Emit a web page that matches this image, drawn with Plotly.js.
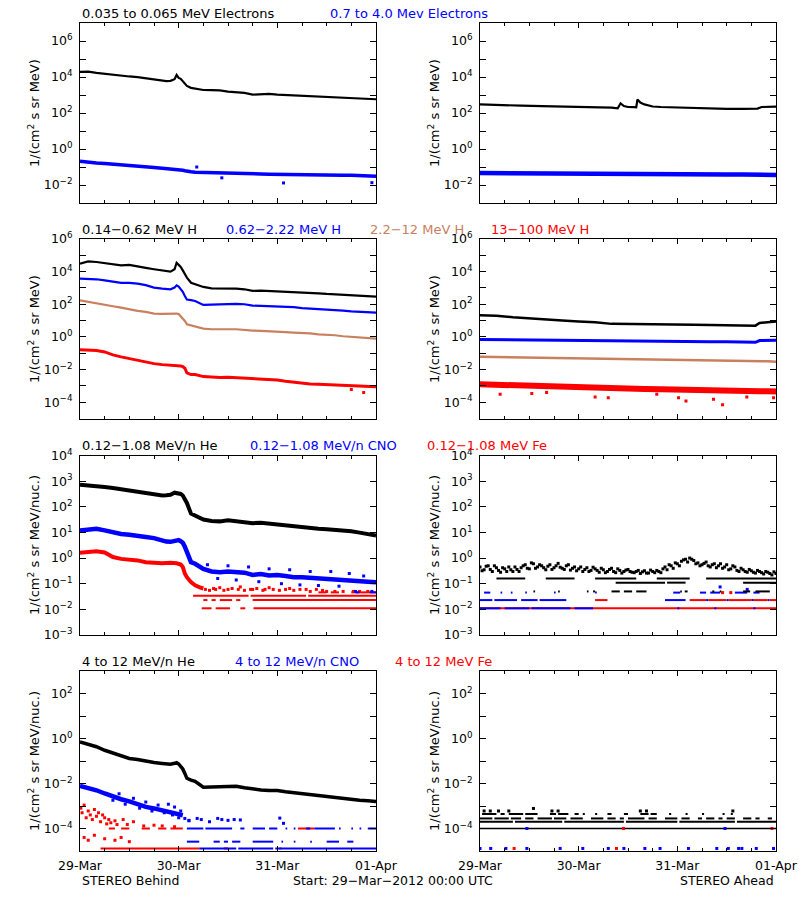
<!DOCTYPE html>
<html><head><meta charset="utf-8">
<script src="https://cdn.plot.ly/plotly-3.0.1.min.js"></script>
<style>html,body{margin:0;padding:0;background:#fff}#chart{width:800px;height:900px}</style>
</head><body><div id="chart"></div>
<script>
// ---------- time axis: hours since 29-Mar-2012 00:00 UTC ----------
const dayTickHours = [0,24,48,72];
const dayTickLabels = ['29-Mar','30-Mar','31-Mar','01-Apr'];

// ---------- Row 1 : electrons ----------
const tB = [0,2,4,6,8,10,12,14,16,18,20,21,22,23,23.5,24,24.5,25,25.5,26,27,28,30,32,34,36,38,40,42,44,46,48,50,52,54,56,58,60,62,64,66,68,70,72];
const eLowBehind = [19500,20000,17000,15000,12700,11600,10700,9800,8300,6900,6100,5900,6100,7600,13000,8900,7900,5900,4600,3200,2500,2300,1900,1850,1800,1550,1400,1300,1050,1150,1150,1050,1000,930,890,850,810,740,690,660,630,610,610,580];
const eHighBehind = [0.21,0.18,0.165,0.155,0.145,0.135,0.125,0.115,0.105,0.094,0.085,0.082,0.078,0.076,0.075,0.072,0.07,0.066,0.062,0.057,0.054,0.051,0.049,0.047,0.045,0.045,0.044,0.044,0.041,0.041,0.040,0.039,0.039,0.038,0.038,0.037,0.037,0.036,0.036,0.035,0.035,0.034,0.033,0.031];
const eHighBehindOutT = [28.4,34.5,49.5,71];
const eHighBehindOutV = [0.1,0.025,0.013,0.0135];

const tAe = [0,5,10,15,20,25,30,32,33.5,34.2,35,36,37.5,38,38.3,39,40,41,42,44,48,52,56,60,64,67.5,68.5,72];
const eLowAhead = [300,290,256,240,225,215,215,200,180,345,245,215,210,205,560,380,300,256,230,215,200,190,175,170,170,175,215,225];
const tA = [0,4,8,12,16,20,24,28,32,36,40,44,48,52,56,60,64,66,67,68,70,72];
const eHighAhead = [0.046,0.045,0.045,0.044,0.044,0.043,0.042,0.042,0.041,0.041,0.040,0.040,0.040,0.039,0.039,0.038,0.038,0.037,0.037,0.037,0.036,0.036];

// ---------- Row 2 : protons ----------
const hB1 = [31000,42000,39000,34000,28000,24500,26000,22000,17000,14000,11500,10700,10000,14000,35000,26000,19500,12000,6900,4300,2100,1700,1150,950,950,950,910,830,660,690,660,630,575,540,510,490,470,430,410,390,370,355,340,295];
const hB2 = [3700,3700,3400,2950,2450,2050,2050,1850,1500,1050,910,870,830,1050,1450,1200,830,575,320,195,178,158,91,95,105,110,105,100,83,79,76,72,69,66,58,55,49,47,45,41,37,34,32,31];
const hB3 = [174,138,110,91,76,63,47,39,34,27,26,26,27,28,27,25,18.6,12,9.5,6.0,5.1,4.7,3.2,2.95,2.8,2.95,2.95,2.6,2.45,2.35,2.15,2.05,1.95,1.85,1.8,1.65,1.45,1.38,1.26,1.1,1.0,0.93,0.87,0.79];
const hB4 = [0.166,0.158,0.145,0.12,0.079,0.060,0.047,0.037,0.031,0.023,0.020,0.0195,0.0186,0.0182,0.0182,0.0178,0.0166,0.0151,0.012,0.0063,0.0049,0.0049,0.0037,0.0035,0.0032,0.0034,0.0032,0.0032,0.0028,0.0027,0.0026,0.0023,0.0019,0.00166,0.0015,0.0013,0.00126,0.0012,0.00115,0.00105,0.001,0.001,0.00095,0.00087];
const hB4OutT = [69, 66];
const hB4OutV = [0.00039, 0.0006];

const hA1 = [21,20,15.8,13.2,11.5,10,8.7,7.9,6.3,6.0,6.0,5.75,5.75,5.5,5.4,5.25,5.0,4.9,4.9,7.2,7.9,8.7];
const hA2 = [0.69,0.68,0.66,0.65,0.63,0.62,0.60,0.58,0.56,0.55,0.54,0.54,0.54,0.52,0.51,0.50,0.49,0.48,0.47,0.60,0.62,0.63];
const hA3 = [0.060,0.058,0.056,0.054,0.053,0.052,0.050,0.048,0.046,0.045,0.044,0.042,0.040,0.039,0.038,0.036,0.035,0.034,0.034,0.033,0.032,0.030];
const hA4 = [0.00125,0.00115,0.00105,0.0010,0.00095,0.00088,0.0008,0.00075,0.0007,0.00068,0.00065,0.00063,0.00062,0.0006,0.00055,0.0005,0.00049,0.00048,0.00047,0.00047,0.00046,0.00045];
const hA4OutT = [4.9,12.6,16.2,28,31.2,43,48.3,50.1,56.8,59,64.9,71.4];
const hA4OutV = [3.1e-4,3.4e-4,3.9e-4,2.1e-4,1.9e-4,3.1e-4,1.9e-4,1.2e-4,1.5e-4,6.9e-5,2.1e-4,1.9e-4];

// ---------- Row 3 : 0.12-1.08 MeV/n ions ----------
const heB = [724,692,646,589,537,479,468,407,372,324,275,282,295,355,347,339,316,275,204,141,54,46,32,28,27,30,27.5,25,23,24,22,20.4,18.6,17.8,16.2,15.1,13.8,13.2,12.6,12.0,11.2,9.8,8.3,7.6];
const cnoB = [12,12.9,13.8,12,9.8,8.7,8.1,7.6,6.6,6.0,4.6,4.4,4.3,4.8,5.2,5.0,4.6,4.0,2.8,1.7,0.69,0.6,0.38,0.30,0.28,0.30,0.28,0.27,0.22,0.24,0.21,0.22,0.2,0.18,0.18,0.17,0.155,0.148,0.148,0.132,0.126,0.115,0.12,0.115];
const cnoBScatT = [31,33.5,36,38,41,43.5,46,49,51,53.5,56,58,61,63,65.5,67,69,71];
const cnoBScatV = [0.55,0.16,0.5,0.14,0.45,0.12,0.38,0.1,0.35,0.09,0.3,0.085,0.3,0.08,0.25,0.05,0.2,0.05];
const tFe = [0,2,4,6,8,10,12,14,16,18,20,22,23.5,24.5,25,25.5,26,27,28,29,30];
const feB = [1.6,1.7,1.85,1.65,1.1,0.93,0.89,0.81,0.69,0.65,0.63,0.65,0.63,0.56,0.45,0.25,0.18,0.115,0.087,0.074,0.065];
const feBScatT = [30.5,31.5,32.5,33,34,35,36,37,38.5,39,40,41.5,42,43,44.5,45,46,47,48.5,50,51,52,53.5,55,56,57.5,59,60,62,64,66.5,68,70];
const feBScatV = [0.06,0.055,0.065,0.06,0.07,0.055,0.06,0.065,0.06,0.075,0.055,0.06,0.06,0.065,0.055,0.06,0.07,0.06,0.055,0.06,0.065,0.055,0.06,0.06,0.05,0.06,0.055,0.05,0.05,0.05,0.05,0.05,0.05];
// quantized count levels and the time spans they are seen
const feBLevel1 = 0.046, feBSeg1 = [[58,60],[61,63],[66,72]];
const feBLevel2 = 0.034, feBSeg2 = [[27.5,41],[41.5,55],[55.5,72]];
const feBLevel3 = 0.023, feBSeg3 = [[30,31],[32,33],[34,37],[38,39],[42,72]];
const feBLevel4 = 0.011, feBSeg4 = [[29.6,32],[33,36.5],[39,40.2],[42.2,72]];
const cnoBLevel1 = 0.046, cnoBSeg1 = [[67,68],[70.5,72]];

const tH1 = [0,1,2,3,4,5,6,7,8,9,10,11,12,13,14,15,16,17,18,19,20,21,22,23,24,25,26,27,28,29,30,31,32,33,34,35,36,37,38,39,40,41,42,43,44,45,46,47,48,49,50,51,52,53,54,55,56,57,58,59,60,61,62,63,64,65,66,67,68,69,70,71,72];
const heA1 = [0.45,0.35,0.5,0.3,0.42,0.28,0.38,0.45,0.3,0.36,0.42,0.55,0.38,0.6,0.45,0.5,0.35,0.55,0.42,0.62,0.4,0.5,0.34,0.45,0.38,0.3,0.42,0.33,0.38,0.28,0.35,0.3,0.4,0.27,0.33,0.3,0.36,0.28,0.3,0.25,0.32,0.26,0.3,0.33,0.27,0.45,0.55,0.4,0.6,0.75,0.9,1.0,0.8,0.65,0.55,0.7,0.45,0.6,0.5,0.4,0.55,0.38,0.45,0.3,0.35,0.28,0.32,0.26,0.3,0.24,0.28,0.22,0.25];
const tH2 = [0.5,1.5,2.5,3.5,4.5,5.5,6.5,7.5,8.5,9.5,10.5,11.5,12.5,13.5,14.5,15.5,16.5,17.5,18.5,19.5,20.5,21.5,22.5,23.5,24.5,25.5,26.5,27.5,28.5,29.5,30.5,31.5,32.5,33.5,34.5,35.5,36.5,37.5,38.5,39.5,40.5,41.5,42.5,43.5,44.5,45.5,46.5,47.5,48.5,49.5,50.5,51.5,52.5,53.5,54.5,55.5,56.5,57.5,58.5,59.5,60.5,61.5,62.5,63.5,64.5,65.5,66.5,67.5,68.5,69.5,70.5,71.5];
const heA2 = [0.32,0.48,0.36,0.5,0.33,0.42,0.3,0.35,0.45,0.3,0.5,0.4,0.65,0.4,0.55,0.42,0.48,0.36,0.5,0.44,0.36,0.55,0.4,0.32,0.45,0.36,0.3,0.44,0.33,0.4,0.27,0.36,0.3,0.38,0.26,0.34,0.3,0.27,0.33,0.29,0.26,0.34,0.27,0.3,0.38,0.35,0.5,0.65,0.5,0.85,0.7,0.9,0.6,0.5,0.62,0.5,0.55,0.42,0.6,0.45,0.35,0.5,0.33,0.4,0.3,0.36,0.28,0.33,0.27,0.3,0.25,0.29];
const heALevel1 = 0.16, heASeg1 = [[4,11],[16,23],[28,38],[43,51],[55,72]];
const heALevel2 = 0.11, heASeg2 = [[33,45],[45.5,50],[64,72]];
const heALevel3 = 0.05, heASeg3 = [[13,13.4],[19,19.4],[26,26.4],[27.5,28],[32,34],[35,37],[38,40.5],[48.7,49.1],[49.8,50.5],[56.5,57],[58.3,58.7],[64,65.7],[67,70.5]];
const cnoALevel1 = 0.045, cnoASeg1 = [[1,2.5],[5,5.4],[7.5,7.9],[11,11.4],[18,18.4],[28,28.4],[47,48.7],[53.5,55],[56,58.4],[62,65],[66.5,68]];
const cnoAHighT = [58.4,65], cnoAHighV = [0.075,0.06];
const cnoALevel2 = 0.023, cnoASeg2 = [[0,3],[3.5,9],[10,14],[14.5,21],[45,50],[55,55.5],[60,60.5],[66,66.4],[70,70.4]];
const feALevel2 = 0.023, feASeg2 = [[28,31],[51,55],[55.5,60],[60.5,66],[66.4,70],[70.4,72]];
const feALevel3 = 0.011, feASeg3 = [[0,72]];
const cnoALevel3 = 0.011, cnoASeg3 = [[0,5],[6,12],[12.5,22],[23,27.5],[48,48.5],[57,57.5],[66.5,67]];
const feAPtT = [59,61], feAPtV = [0.045,0.045];

// ---------- Row 4 : 4-12 MeV/n ions ----------
const he4B = [0.71,0.56,0.43,0.30,0.23,0.18,0.129,0.117,0.098,0.085,0.078,0.076,0.072,0.079,0.085,0.074,0.060,0.044,0.028,0.017,0.014,0.0126,0.0068,0.0071,0.0074,0.0079,0.0076,0.0065,0.0056,0.0052,0.0049,0.0049,0.0043,0.0039,0.0035,0.0030,0.0028,0.0026,0.0023,0.0022,0.0020,0.0018,0.0017,0.0016];
const tC4 = [0,2,4,6,8,10,12,14,16,18,20,22,24,25];
const cno4B = [0.0079,0.0065,0.0050,0.0036,0.0026,0.0020,0.0016,0.00117,0.00091,0.00078,0.00065,0.00055,0.00047,0.00039];
const cno4ScatT = [8,9.5,11,13,14.5,16,17.5,19,20.5,21.5,22.5,23,24,24.5,25.5,26.5];
const cno4ScatV = [0.0018,0.0035,0.0012,0.0022,0.0008,0.0015,0.0006,0.0011,0.0005,0.0012,0.0004,0.0009,0.0003,0.0006,0.00028,0.00022];
const cno4PostT = [26.5,28.5,29.5,31.5,33.5,34.5,36,37.5,39,48.6,49.5];
const cno4PostV = [2.3e-4,2.8e-4,2.5e-4,2e-4,2.8e-4,2.5e-4,2.3e-4,2.5e-4,2.4e-4,2.9e-4,1.7e-4];
const cno4Level1 = 1e-4, cno4Seg1 = [[26,30],[30.5,37],[39,40],[42,45],[46,48],[50,50.4],[52,52.4],[55,56],[57,62],[63,63.4],[66,66.4],[68,68.4],[70,72]];
const cno4Level2 = 2.6e-5, cno4Seg2 = [[26,29],[32.5,34],[35,36],[37,39],[42,47],[49,49.4],[52,52.4],[56,56.4],[60,63],[65,66.5]];
const cno4Level3 = 1.3e-5, cno4Seg3 = [[29,38],[38.5,47],[47.5,72]];
const fe4Level1 = 1e-4, fe4Seg1 = [[7,8.5],[10,12],[15,17],[19,21],[22,25],[53,57]];
const fe4Level3 = 1.3e-5, fe4Seg3 = [[5,29],[35,36],[48.5,49]];
const fe4ScatT = [0.2,0.5,1,1.5,2,2.5,3,3.5,4,4.5,5,5.5,6,6.5,7,7.5,8.5,9,10.5,11.5,13,15.5,18,20,23,1,2,3.5,6,8.5,10,12];
const fe4ScatV = [8e-4,5e-4,1.1e-3,3e-4,6e-4,4e-4,2.5e-4,7e-4,3.5e-4,5e-4,2e-4,4e-4,3e-4,1.6e-4,2.5e-4,1.8e-4,2.2e-4,1.5e-4,2.5e-4,1.5e-4,2e-4,1.3e-4,1.4e-4,1.3e-4,1.2e-4,4e-5,3e-5,5e-5,3.5e-5,3e-5,4e-5,2.6e-5];

const he4ALevel0 = 1e-4, he4ASeg0 = [[0,72]];
const he4ALevel1 = 2e-4, he4ASeg1 = [[0,8],[8.5,20],[20.5,35],[35.5,48],[48.5,62],[62.5,72]];
const he4ALevel2 = 2.8e-4, he4ASeg2 = [[0,3],[3.5,7],[7.5,10],[11,13],[14,17.5],[18,21],[22,25],[27,30],[31,33],[34,35],[36,40],[41,43],[45,48],[49,51],[53,54],[55,57],[58,59],[60,62],[64,66],[67,68],[70,71]];
const he4ALevel3 = 4.4e-4, he4ASeg3 = [[0.5,4],[5,6],[7,10.5],[11,14],[17,18.5],[19,21.5],[23,24],[25,25.5],[28,28.5],[31,32],[35,36],[39,41],[41.5,43],[46,46.5],[50,50.5],[54,54.5],[59,59.5],[61,61.5]];
const he4AHighT = [1,2.5,4.5,7,13,17.5,19,39,40.5,61.5];
const he4AHighV = [6e-4,6e-4,6e-4,6e-4,7.8e-4,6e-4,6e-4,6e-4,6e-4,6e-4];
const cno4ALowT = [0,2.6,6.3,11.4,19.5,25,31.2,35,40.1,43.8,50.7,57.6,60.4,62.9,63.7,67.2,71.4];
const cno4ALowV = [1.3e-5,1.3e-5,1.3e-5,1.3e-5,1.3e-5,1.3e-5,1.3e-5,1.3e-5,1.3e-5,1.3e-5,1.3e-5,1.3e-5,1.3e-5,1.3e-5,1.3e-5,1.3e-5,1.3e-5];
const fe4ALowT = [8.3,33.2], fe4ALowV = [1.3e-5,1.3e-5];
const cno4AMidT = [11.4,59.6], cno4AMidV = [1e-4,1e-4];
const fe4AMidT = [34.9,71], fe4AMidV = [1e-4,1e-4];

// ---------- colours ----------
const BLACK = '#000000', BLUE = '#0000ff', BROWN = '#c9805e', RED = '#ff0000';

// ---------- helpers ----------
const traces = [];
const axn = i => i === 1 ? '' : String(i);
function line(i, x, y, color, width) {
  traces.push({type:'scatter', mode:'lines', x, y, xaxis:'x'+axn(i), yaxis:'y'+axn(i),
    line:{color, width}, hoverinfo:'skip', connectgaps:false});
}
function dots(i, x, y, color, size) {
  traces.push({type:'scatter', mode:'markers', x, y, xaxis:'x'+axn(i), yaxis:'y'+axn(i),
    marker:{color, size: size || 3, symbol:'square', line:{width:0}}, hoverinfo:'skip'});
}
function level(i, segs, value, color, width) {
  const x = [], y = [];
  segs.forEach(s => { x.push(s[0], s[1], null); y.push(value, value, null); });
  line(i, x, y, color, width || 2);
}

// Panel 1: Behind electrons
line(1, tB, eLowBehind, BLACK, 2.2);
line(1, tB, eHighBehind, BLUE, 3.5);
dots(1, eHighBehindOutT, eHighBehindOutV, BLUE, 3);
// Panel 2: Ahead electrons
line(2, tAe, eLowAhead, BLACK, 2.2);
line(2, tA, eHighAhead, BLUE, 4.5);
// Panel 3: Behind protons
line(3, tB, hB1, BLACK, 2.2);
line(3, tB, hB2, BLUE, 2.2);
line(3, tB, hB3, BROWN, 2.2);
line(3, tB, hB4, RED, 3);
dots(3, hB4OutT, hB4OutV, RED, 3);
// Panel 4: Ahead protons
line(4, tA, hA1, BLACK, 2.5);
line(4, tA, hA2, BLUE, 3);
line(4, tA, hA3, BROWN, 2.5);
line(4, tA, hA4, RED, 6);
dots(4, hA4OutT, hA4OutV, RED, 3);
// Panel 5: Behind low-energy ions
level(5, feBSeg4, feBLevel4, RED, 2);
level(5, feBSeg3, feBLevel3, RED, 2);
level(5, feBSeg2, feBLevel2, RED, 2);
level(5, feBSeg1, feBLevel1, RED, 2);
dots(5, feBScatT, feBScatV, RED, 3);
line(5, tFe, feB, RED, 4);
line(5, tB, heB, BLACK, 4);
line(5, tB, cnoB, BLUE, 4.5);
dots(5, cnoBScatT, cnoBScatV, BLUE, 3);
level(5, cnoBSeg1, cnoBLevel1, BLUE, 2);
// Panel 6: Ahead low-energy ions
level(6, feASeg3, feALevel3, RED, 2);
level(6, cnoASeg3, cnoALevel3, BLUE, 2);
level(6, cnoASeg2, cnoALevel2, BLUE, 2);
level(6, feASeg2, feALevel2, RED, 2);
level(6, cnoASeg1, cnoALevel1, BLUE, 2);
dots(6, cnoAHighT, cnoAHighV, BLUE, 3);
dots(6, feAPtT, feAPtV, RED, 3);
level(6, heASeg1, heALevel1, BLACK, 2);
level(6, heASeg2, heALevel2, BLACK, 2);
level(6, heASeg3, heALevel3, BLACK, 2);
dots(6, tH1, heA1, BLACK, 3);
dots(6, tH2, heA2, BLACK, 3);
// Panel 7: Behind 4-12 MeV/n ions
level(7, fe4Seg3, fe4Level3, RED, 2);
level(7, cno4Seg3, cno4Level3, BLUE, 2);
level(7, cno4Seg2, cno4Level2, BLUE, 2);
level(7, fe4Seg1, fe4Level1, RED, 2);
level(7, cno4Seg1, cno4Level1, BLUE, 2);
dots(7, fe4ScatT, fe4ScatV, RED, 3);
line(7, tC4, cno4B, BLUE, 4.5);
dots(7, cno4ScatT, cno4ScatV, BLUE, 3);
dots(7, cno4PostT, cno4PostV, BLUE, 3);
line(7, tB, he4B, BLACK, 3.5);
// Panel 8: Ahead 4-12 MeV/n ions
level(8, he4ASeg0, he4ALevel0, BLACK, 1.5);
level(8, he4ASeg1, he4ALevel1, BLACK, 2);
level(8, he4ASeg2, he4ALevel2, BLACK, 2);
level(8, he4ASeg3, he4ALevel3, BLACK, 2);
dots(8, he4AHighT, he4AHighV, BLACK, 3);
dots(8, cno4AMidT, cno4AMidV, BLUE, 3);
dots(8, fe4AMidT, fe4AMidV, RED, 3);
dots(8, cno4ALowT, cno4ALowV, BLUE, 3);
dots(8, fe4ALowT, fe4ALowV, RED, 3);

// ---------- axes ----------
const FONT = 'DejaVu Sans, Liberation Sans, sans-serif';
const colX = [[80/800, 376/800], [480/800, 776/800]];
const rowY = [[23,203],[239,418.5],[455.5,635],[671,851]].map(r => [1 - r[1]/900, 1 - r[0]/900]);
const rowRange = [[-3,7],[-5,6],[-3,4],[-5,3]];
const rowLabelExp = [[-2,0,2,4,6],[-4,-2,0,2,4,6],[-3,-2,-1,0,1,2,3,4],[-4,-2,0,2]];
const rowMinorExp = [[-1,1,3,5],[-3,-1,1,3,5],[],[-3,-1,1]];
function expText(k){ return '10<sup>' + (k < 0 ? '\u2212' + (-k) : k) + '</sup>'; }

const layout = {
  width:800, height:900, margin:{l:0,r:0,t:0,b:0},
  paper_bgcolor:'#ffffff', plot_bgcolor:'#ffffff',
  showlegend:false, font:{family:FONT, size:12, color:'#000'},
  annotations:[]
};
for (let i = 1; i <= 8; i++) {
  const r = Math.floor((i-1)/2), c = (i-1)%2;
  layout['xaxis'+axn(i)] = {
    domain: colX[c], anchor:'y'+axn(i), range:[0,72],
    tickmode:'array', tickvals:dayTickHours, ticktext:dayTickLabels,
    showticklabels: r === 3,
    ticks:'inside', ticklen:5, tickwidth:1, tickcolor:'#000',
    minor:{tickmode:'linear', tick0:0, dtick:6, ticks:'inside', ticklen:3, tickwidth:1, tickcolor:'#000', showgrid:false},
    showline:true, linecolor:'#000', linewidth:1, mirror:'ticks',
    showgrid:false, zeroline:false, fixedrange:true,
    tickfont:{family:FONT, size:12.5, color:'#000'}, ticklabelstandoff:3
  };
  const yax = {
    domain: rowY[r], anchor:'x'+axn(i), type:'log', range:rowRange[r],
    tickmode:'array', tickvals: rowLabelExp[r].map(k => Math.pow(10,k)),
    ticktext: rowLabelExp[r].map(expText),
    ticks:'inside', ticklen:6, tickwidth:1, tickcolor:'#000',
    showline:true, linecolor:'#000', linewidth:1, mirror:'ticks',
    showgrid:false, zeroline:false, fixedrange:true,
    tickfont:{family:FONT, size:12.5, color:'#000'}, ticklabelstandoff:4
  };
  if (rowMinorExp[r].length) {
    yax.minor = {tickmode:'array', tickvals: rowMinorExp[r].map(k => Math.pow(10,k)),
      ticks:'inside', ticklen:6, tickwidth:1, tickcolor:'#000', showgrid:false};
  }
  layout['yaxis'+axn(i)] = yax;
}

// ---------- text ----------
const rowTitles = [
  [['0.035 to 0.065 MeV Electrons',80,BLACK],['0.7 to 4.0 Mev Electrons',328,BLUE]],
  [['0.14\u22120.62 MeV H',80,BLACK],['0.62\u22122.22 MeV H',224,BLUE],['2.2\u221212 MeV H',368,BROWN],['13\u2212100 MeV H',489,RED]],
  [['0.12\u22121.08 MeV/n He',80,BLACK],['0.12\u22121.08 MeV/n CNO',248,BLUE],['0.12\u22121.08 MeV Fe',425,RED]],
  [['4 to 12 MeV/n He',80,BLACK],['4 to 12 MeV/n CNO',233,BLUE],['4 to 12 MeV Fe',393,RED]]
];
const rowTitleY = [13.5, 229, 445, 661];
rowTitles.forEach((items, r) => items.forEach(([txt, x, col]) => {
  layout.annotations.push({text:txt, xref:'paper', yref:'paper', x:x/800, y:1-rowTitleY[r]/900,
    xanchor:'left', yanchor:'middle', showarrow:false, font:{family:FONT, size:13, color:col}});
}));
const yTitles = ['1/(cm<sup>2</sup> s sr MeV)','1/(cm<sup>2</sup> s sr MeV)','1/(cm<sup>2</sup> s sr MeV/nuc.)','1/(cm<sup>2</sup> s sr MeV/nuc.)'];
const rowCenters = [113, 329, 545, 761];
for (let r = 0; r < 4; r++) {
  [34, 434].forEach(xc => layout.annotations.push({text:yTitles[r], xref:'paper', yref:'paper',
    x:xc/800, y:1-rowCenters[r]/900, xanchor:'center', yanchor:'middle', textangle:-90,
    showarrow:false, font:{family:FONT, size:13, color:'#000'}}));
}
const footer = [['STEREO Behind',80,'left'],['Start: 29\u2212Mar\u22122012 00:00 UTC',291,'left'],['STEREO Ahead',776,'right']];
footer.forEach(([txt,x,anc]) => layout.annotations.push({text:txt, xref:'paper', yref:'paper',
  x:x/800, y:1-880/900, xanchor:anc, yanchor:'middle', showarrow:false,
  font:{family:FONT, size:12.5, color:'#000'}}));

Plotly.newPlot('chart', traces, layout, {staticPlot:true, displayModeBar:false});
</script>
</body></html>
